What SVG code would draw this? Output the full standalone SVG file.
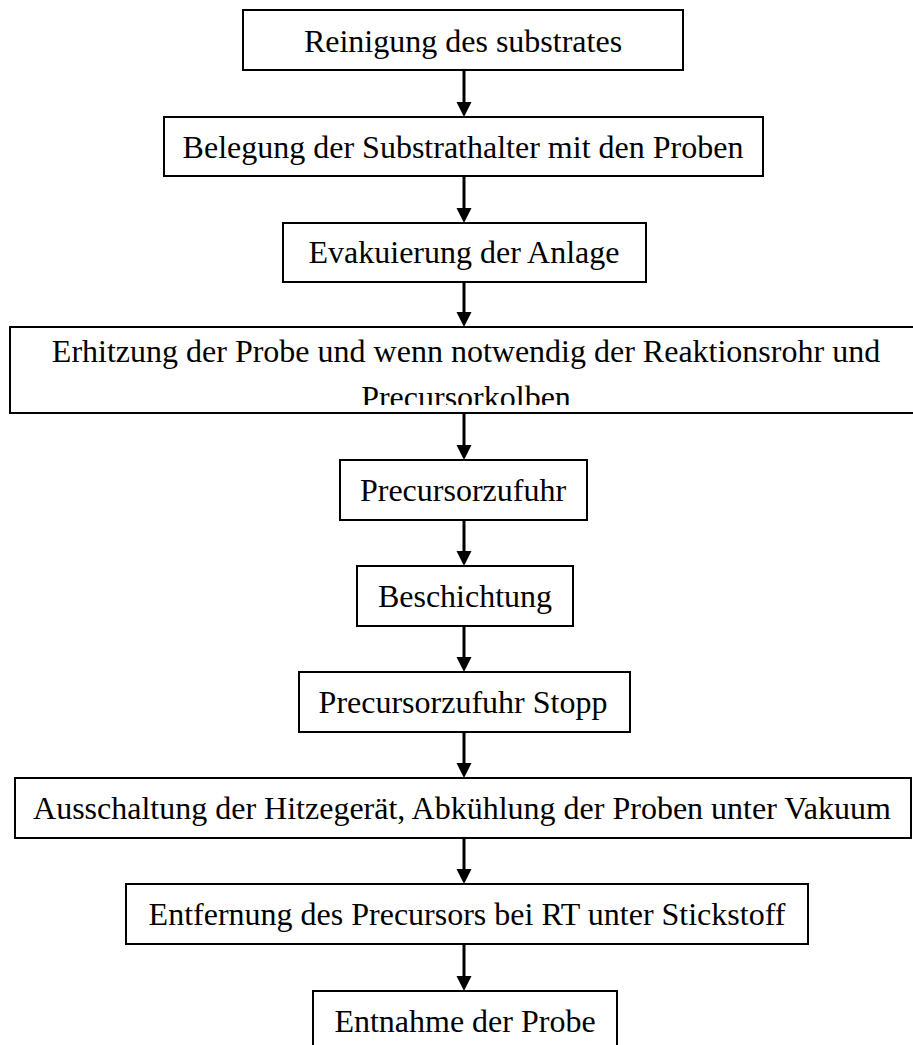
<svg xmlns="http://www.w3.org/2000/svg" width="913" height="1045" viewBox="0 0 913 1045">
  <style>
    .box { fill: #ffffff; stroke: #000000; stroke-width: 2; }
    .lbl { font-family: "Liberation Serif", "Times New Roman", serif; font-size: 32px; fill: #000000; text-anchor: middle; }
    .flow { stroke: #000000; stroke-width: 3; fill: none; marker-end: url(#head); }
  </style>
  <defs>
    <marker id="head" markerUnits="userSpaceOnUse" markerWidth="16" markerHeight="16" refX="7" refY="7.5" orient="auto">
      <path d="M0,0 L15,7.5 L0,15 z" fill="#000000"/>
    </marker>
    <clipPath id="cut4">
      <rect x="0" y="0" width="913" height="405"/>
    </clipPath>
  </defs>
  <rect width="913" height="1045" fill="#ffffff"/>

  <g id="connectors">
    <line class="flow" x1="464" y1="70" x2="464" y2="109"/>
    <line class="flow" x1="464" y1="177" x2="464" y2="215"/>
    <line class="flow" x1="464" y1="282" x2="464" y2="319"/>
    <line class="flow" x1="464" y1="413" x2="464" y2="452"/>
    <line class="flow" x1="464" y1="520" x2="464" y2="558"/>
    <line class="flow" x1="464" y1="626" x2="464" y2="664"/>
    <line class="flow" x1="464" y1="732" x2="464" y2="770"/>
    <line class="flow" x1="464" y1="838" x2="464" y2="876"/>
    <line class="flow" x1="464" y1="944" x2="464" y2="983"/>
  </g>

  <g id="n1">
    <rect class="box" x="243" y="10" width="440" height="60"/>
    <text class="lbl" x="463" y="52">Reinigung des substrates</text>
  </g>
  <g id="n2">
    <rect class="box" x="164" y="117" width="599" height="59"/>
    <text class="lbl" x="463" y="158">Belegung der Substrathalter mit den Proben</text>
  </g>
  <g id="n3">
    <rect class="box" x="283" y="223" width="363" height="59"/>
    <text class="lbl" x="464" y="263">Evakuierung der Anlage</text>
  </g>
  <g id="n4">
    <rect class="box" x="10" y="327" width="912" height="86"/>
    <g clip-path="url(#cut4)">
      <text class="lbl" x="466" y="362">Erhitzung der Probe und wenn notwendig der Reaktionsrohr und</text>
      <text class="lbl" x="466" y="408">Precursorkolben</text>
    </g>
  </g>
  <g id="n5">
    <rect class="box" x="340" y="460" width="247" height="60"/>
    <text class="lbl" x="463" y="501">Precursorzufuhr</text>
  </g>
  <g id="n6">
    <rect class="box" x="357" y="566" width="216" height="60"/>
    <text class="lbl" x="465" y="607">Beschichtung</text>
  </g>
  <g id="n7">
    <rect class="box" x="299" y="672" width="331" height="60"/>
    <text class="lbl" x="463" y="713">Precursorzufuhr Stopp</text>
  </g>
  <g id="n8">
    <rect class="box" x="15" y="778" width="896" height="60"/>
    <text class="lbl" x="462" y="819">Ausschaltung der Hitzegerät, Abkühlung der Proben unter Vakuum</text>
  </g>
  <g id="n9">
    <rect class="box" x="126" y="884" width="682" height="60"/>
    <text class="lbl" x="467" y="925">Entfernung des Precursors bei RT unter Stickstoff</text>
  </g>
  <g id="n10">
    <rect class="box" x="313" y="991" width="304" height="80"/>
    <text class="lbl" x="465" y="1032">Entnahme der Probe</text>
  </g>
</svg>
